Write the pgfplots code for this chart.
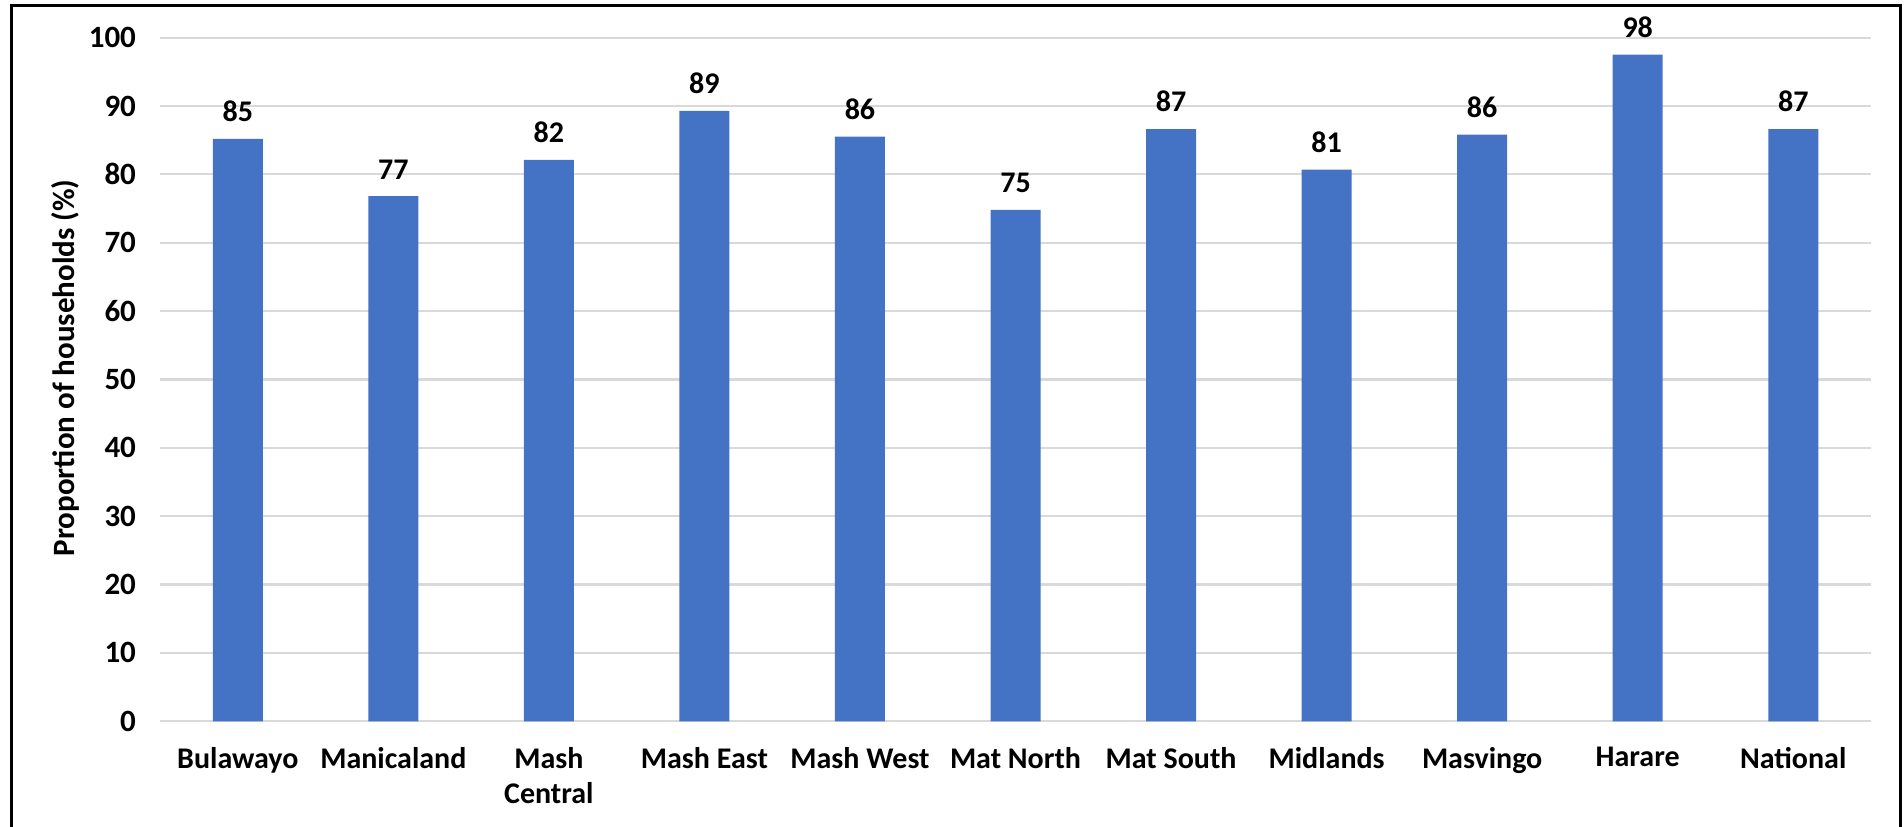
\documentclass[border=0pt]{standalone}
\usepackage{pgfplots}
\pgfplotsset{compat=1.18}
\usepackage{fontspec}
\setmainfont{Carlito}
\definecolor{barblue}{HTML}{4472C4}
\definecolor{gridgray}{HTML}{D9D9D9}
\pgfplotstableread{
x y label
0 85.2 85
1 76.8 77
2 82.1 82
3 89.3 89
4 85.5 86
5 74.8 75
6 86.6 87
7 80.7 81
8 85.8 86
9 97.5 98
10 86.6 87
}\datatable
\begin{document}
\begin{tikzpicture}
\useasboundingbox (0pt,0pt) rectangle (952pt,413pt);
\draw[line width=1.5pt] (5.5pt,-10pt) -- (5.5pt,410.2pt) -- (950pt,410.2pt) -- (950pt,-10pt);
\begin{axis}[
  at={(80pt,52.35pt)}, anchor=south west,
  scale only axis, width=855.5pt, height=341.85pt,
  xmin=-0.5, xmax=10.5, ymin=0, ymax=100,
  ytick={0,10,...,100},
  xtick={0,...,10},
  xticklabels={Bulawayo,Manicaland,Mash\\Central,Mash East,Mash West,Mat North,Mat South,Midlands,Masvingo,Harare,National},
  /pgf/number format/assume math mode=true,
  xticklabel style={align=center, font=\bfseries\fontsize{15}{17.5}\selectfont, yshift=-9.5pt},
  yticklabel style={font=\bfseries\fontsize{15.5}{17}\selectfont, xshift=-8.5pt},
  axis line style={draw=none},
  ymajorgrids, major grid style={gridgray, line width=1.1pt},
  major tick length=0pt,
  tick style={draw=none},
  ylabel={Proportion of households (\%)},
  every axis y label/.style={at={(axis description cs:-0.0555,0.517)}, rotate=90, anchor=center, font=\bfseries\fontsize{15.5}{17}\selectfont},
  ybar, bar width=25pt,
  nodes near coords, point meta=explicit symbolic,
  every node near coord/.append style={font=\bfseries\fontsize{15}{17}\selectfont, yshift=5pt},
]
\addplot[fill=barblue, draw=none] table[x=x, y=y, meta=label] {\datatable};
\end{axis}
\end{tikzpicture}
\end{document}
